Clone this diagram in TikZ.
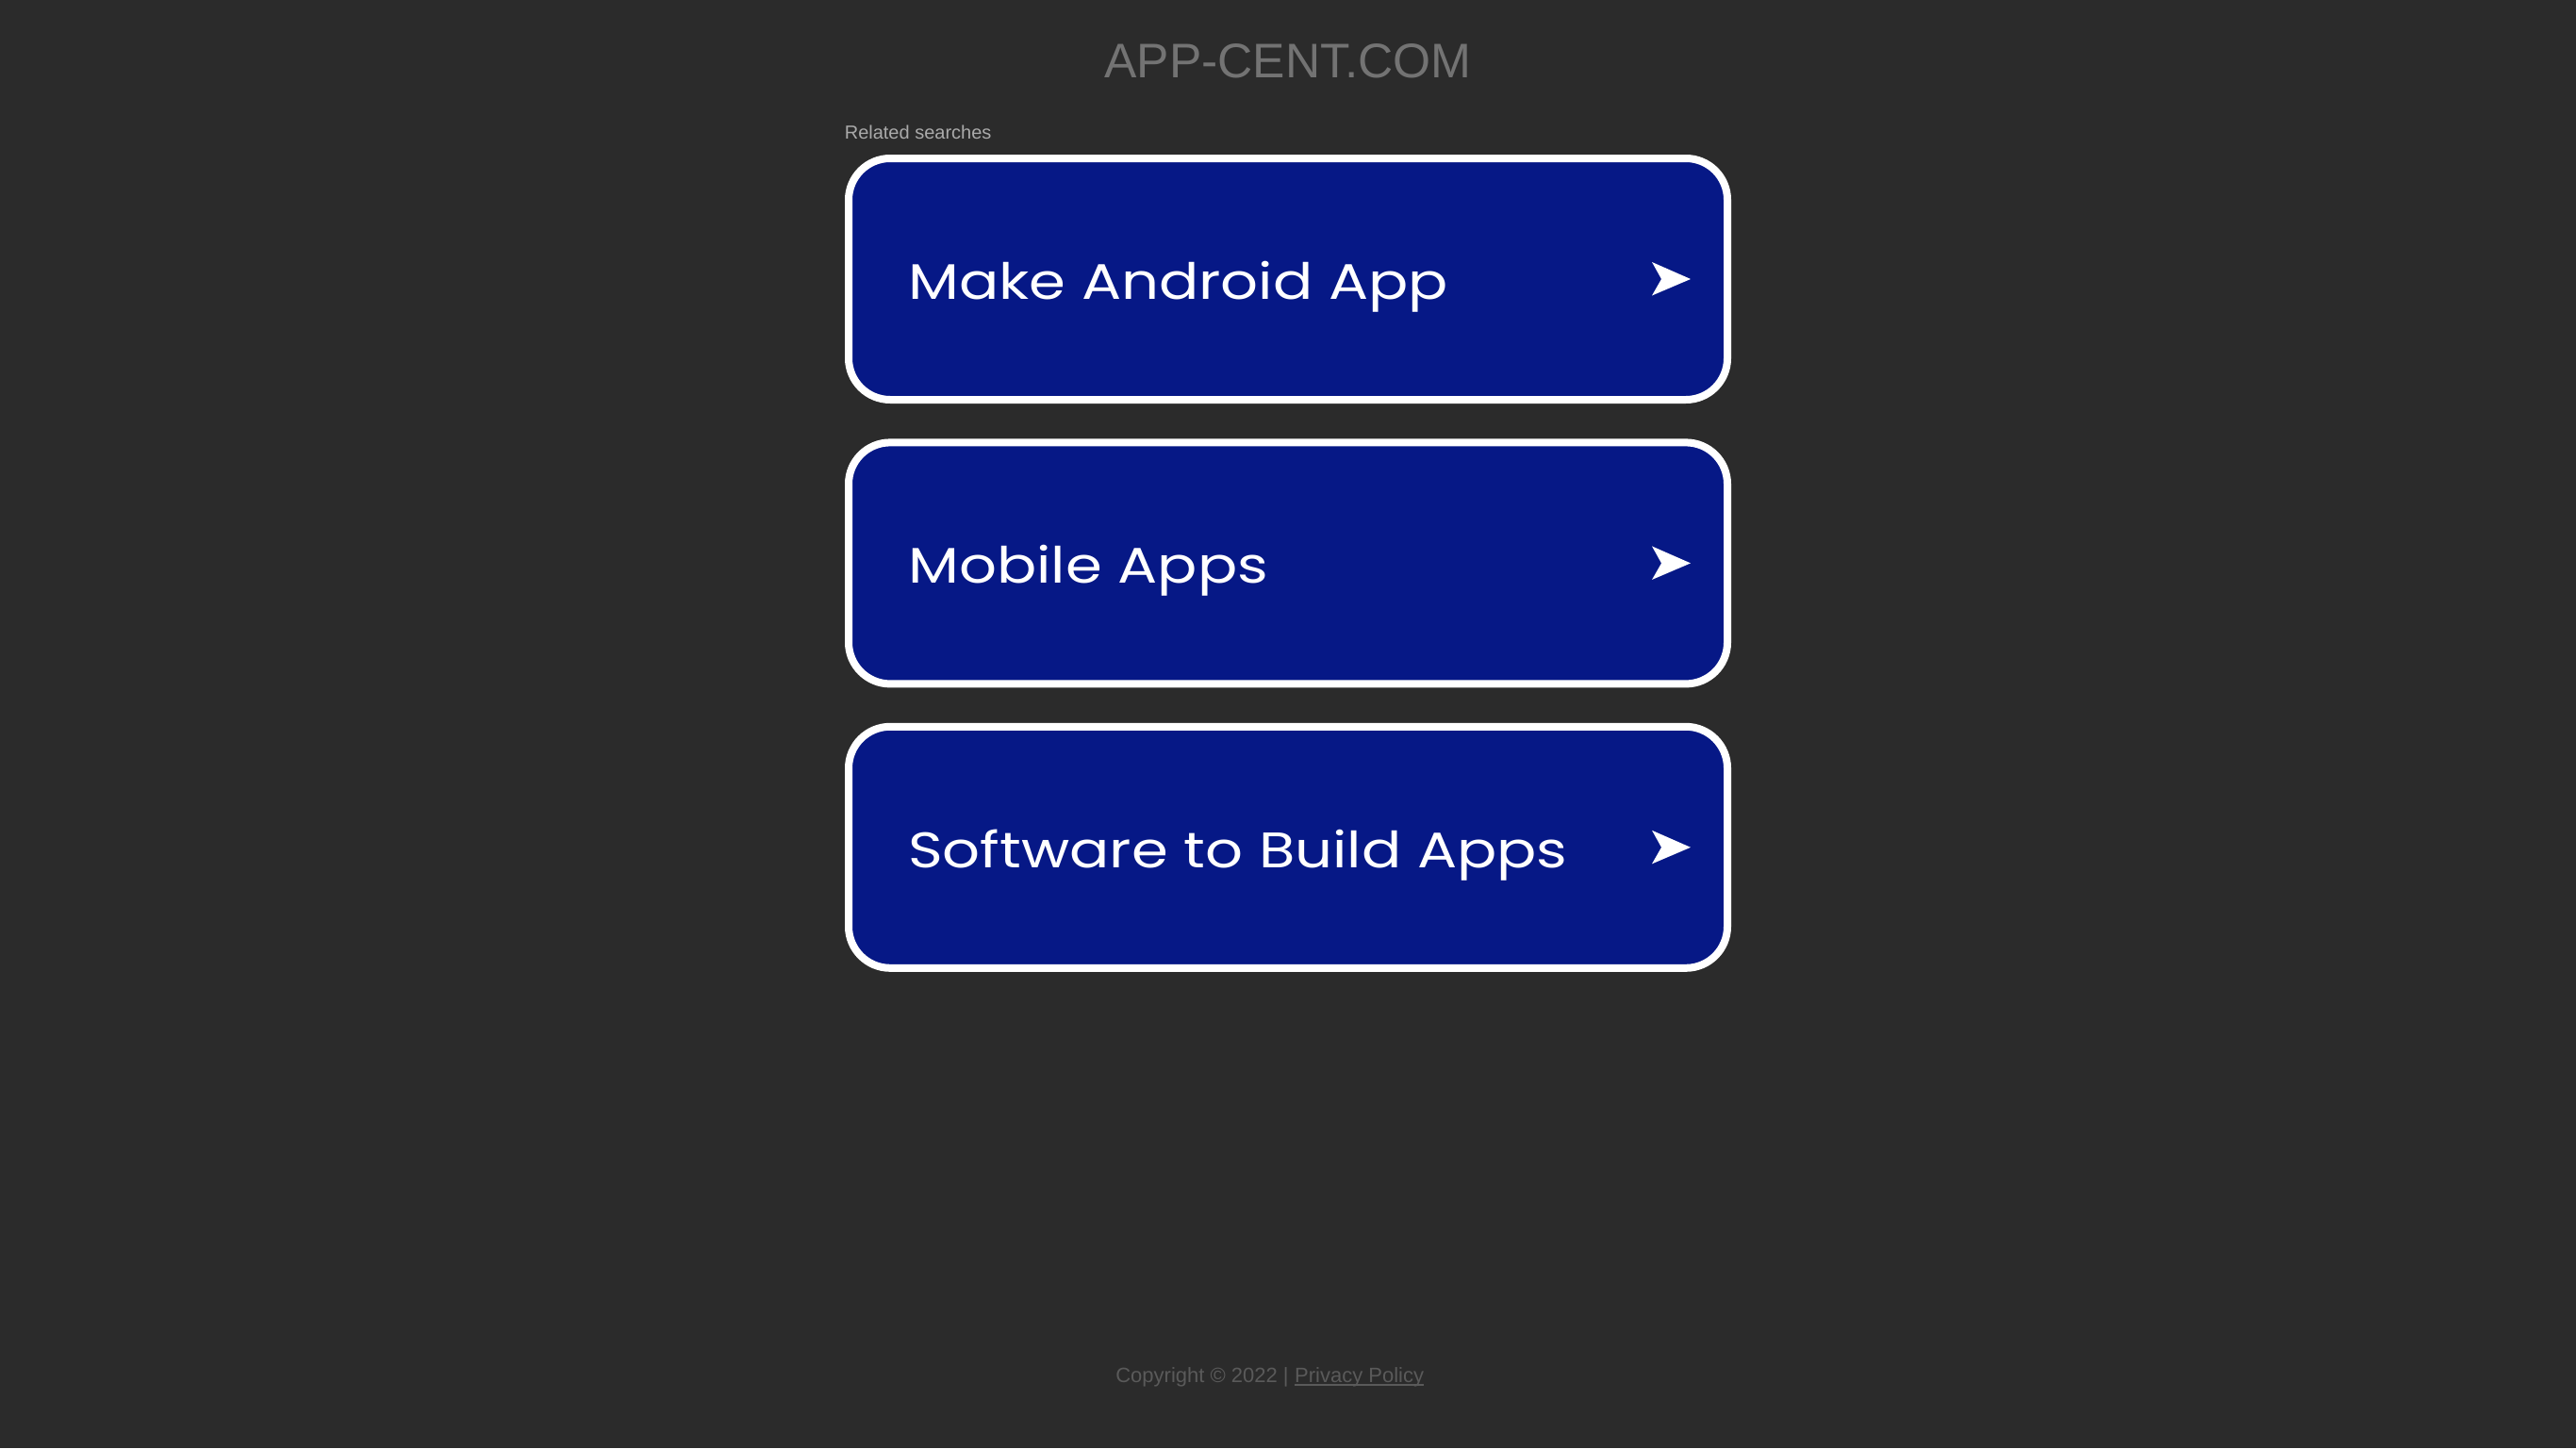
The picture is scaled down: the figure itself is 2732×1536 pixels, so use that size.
\documentclass[tikz,border=0pt]{standalone}
\usepackage{fontspec}
\setmainfont{Liberation Sans}
\newfontfamily\boxfont[FakeStretch=1.18]{Poppins}
\usetikzlibrary{calc}
\definecolor{bg}{RGB}{43,43,43}
\definecolor{boxblue}{RGB}{6,24,134}
\definecolor{titlegray}{RGB}{115,115,115}
\definecolor{relgray}{RGB}{170,170,170}
\definecolor{footgray}{RGB}{90,90,90}
\begin{document}
\begin{tikzpicture}[x=1pt,y=-1pt,
  searchbox/.style={draw=white, fill=boxblue, line width=8pt, rounded corners=44pt,
    minimum width=932pt, minimum height=256pt, inner sep=0pt},
  boxlabel/.style={anchor=base west, inner sep=0pt, text=white,
    font=\boxfont\fontsize{53}{60}\selectfont},
  arrowhead/.style={fill=white},
  titletext/.style={anchor=base, inner sep=0pt, text=titlegray,
    font=\fontsize{51.5}{60}\selectfont},
  reltext/.style={anchor=base west, inner sep=0pt, text=relgray,
    font=\fontsize{20}{24}\selectfont},
  foottext/.style={inner sep=0pt, text=footgray, font=\fontsize{22}{26}\selectfont},
  footline/.style={draw=footgray, line width=2pt}]
\useasboundingbox[fill=bg] (0,0) rectangle (2732,1536);
\node[titletext] (title) at (1366,82.7) {APP-CENT.COM};
\node[reltext] (rel) at (895.6,147.3) {Related searches};
\foreach \name/\cy/\lbl in {b1/296/Make Android App, b2/597.4/Mobile Apps, b3/898.8/Software to Build Apps}{
  \node[searchbox] (\name) at (1366,\cy) {};
  \node[boxlabel] (\name-text) at (963,\cy+21.3) {\lbl};
  \fill[arrowhead] ($(\name.center)+(427,0)$) -- ($(\name.center)+(386,-18)$)
    -- ($(\name.center)+(396,0)$) -- ($(\name.center)+(386,17.5)$) -- cycle;
}
\node[foottext, anchor=base west] (priv) at (1373,1466.7) {Privacy Policy};
\node[foottext, anchor=base east] (copy) at (priv.base west) {Copyright © 2022 |\kern0.278em};
\draw[footline] ($(priv.base west)+(0,2.5)$) -- ($(priv.base east)+(0,2.5)$);
\end{tikzpicture}
\end{document}
